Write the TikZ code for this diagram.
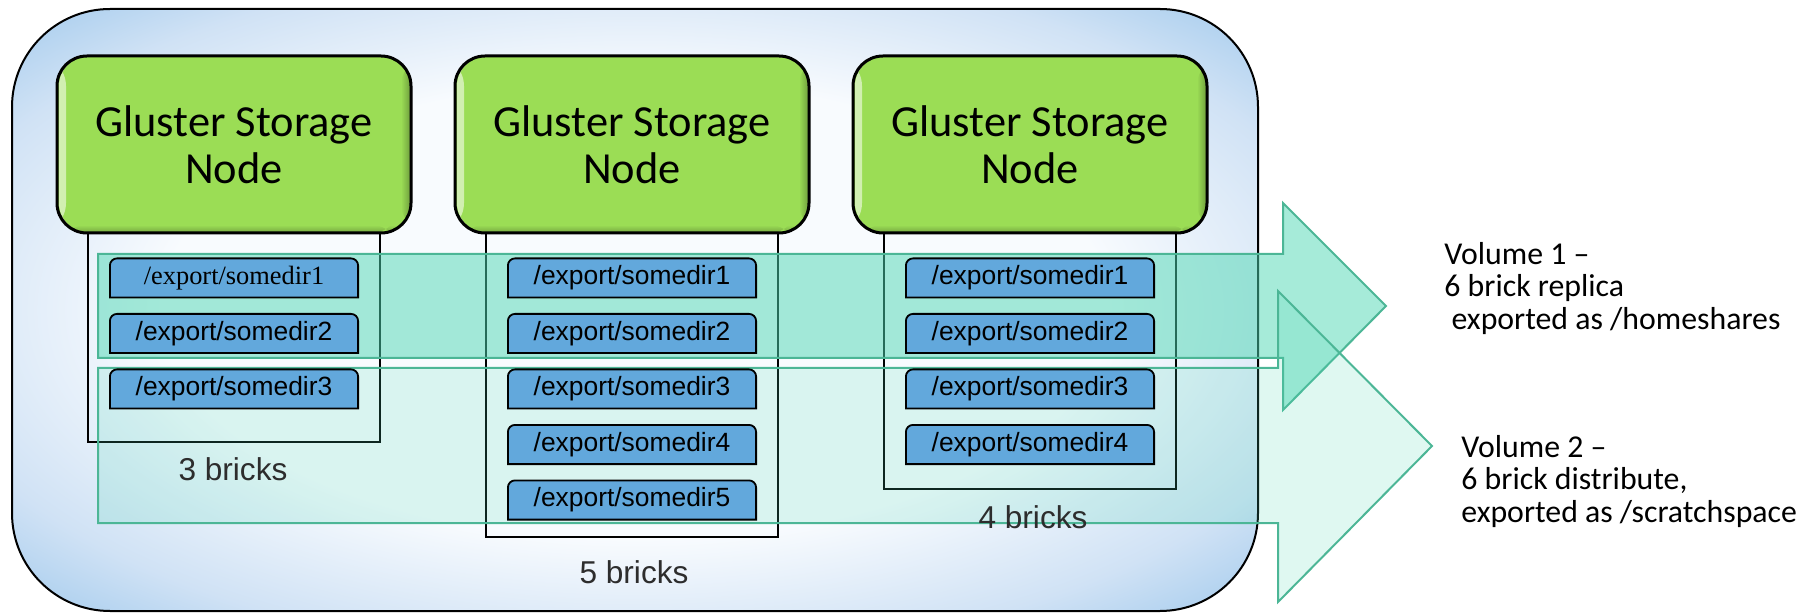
\documentclass[tikz,border=0pt]{standalone}
\usepackage{fontspec}
\usepackage{tikz}
\setmainfont{Carlito}
\newfontfamily\arialf{Liberation Sans}
\newfontfamily\timesf{Liberation Serif}
\definecolor{nodegreen}{RGB}{155,221,85}
\definecolor{brickblue}{RGB}{98,168,220}
\definecolor{volteal}{RGB}{77,215,179}
\definecolor{voledge}{RGB}{76,182,150}
\definecolor{countgray}{RGB}{45,45,45}
\definecolor{glowin}{RGB}{248,251,254}
\definecolor{glowmid}{RGB}{208,226,245}
\definecolor{glowout}{RGB}{160,201,236}
\definecolor{glowdeep}{RGB}{140,188,232}
\pgfdeclareradialshading{clusterglow}{\pgfpoint{0bp}{0bp}}{color(0bp)=(glowin); color(19bp)=(glowin); color(29bp)=(glowmid); color(36bp)=(glowout); color(50bp)=(glowdeep)}

\begin{document}
\begin{tikzpicture}[x=0.5pt,y=-0.5pt]
  \tikzset{gnode/.style={draw=black,line width=1.5pt,fill=nodegreen,rounded corners=15pt,minimum width=177pt,minimum height=88.5pt,align=center,font=\fontsize{22.2}{23.5}\selectfont,
      path picture={\shade[left color=nodegreen!45!white,right color=nodegreen] ([xshift=1pt]path picture bounding box.south west) rectangle ([xshift=4.5pt]path picture bounding box.north west);
        \shade[left color=nodegreen,right color=nodegreen!70!black] ([xshift=-5pt]path picture bounding box.south east) rectangle (path picture bounding box.north east);
        \shade[top color=nodegreen,bottom color=nodegreen!75!black] ([yshift=4pt]path picture bounding box.south west) rectangle ([xshift=-5pt]path picture bounding box.south east);}},
    brick/.style={minimum width=125pt,minimum height=20.5pt,inner sep=0pt,font=\arialf\fontsize{13.2}{15}\selectfont,
      path picture={\draw[x=1pt,y=1pt,fill=brickblue,line width=0.9pt]
        ([shift={(0.45pt,0.45pt)}]path picture bounding box.south west)
        -- ([shift={(0.45pt,-4pt)}]path picture bounding box.north west) arc[start angle=180,end angle=90,radius=3.55pt]
        -- ([shift={(-4pt,-0.45pt)}]path picture bounding box.north east) arc[start angle=90,end angle=0,radius=3.55pt]
        -- ([shift={(-0.45pt,0.45pt)}]path picture bounding box.south east) -- cycle;}},
    frame/.style={draw=black,line width=1pt},
    vol1/.style={draw=voledge,line width=1pt,fill=volteal,fill opacity=0.5},
    vol2/.style={draw=voledge,line width=1pt,fill=volteal,fill opacity=0.18},
    count/.style={font=\arialf\fontsize{15.8}{18}\selectfont,text=countgray},
    vol/.style={anchor=north west,inner sep=0pt,align=left,font=\fontsize{15.9}{16.2}\selectfont}}
  \useasboundingbox (0,0) rectangle (1814,614);
  \draw[black,line width=1pt,rounded corners=49pt,shading=clusterglow] (12,9) rectangle (1258,611);
  \foreach \x/\b/\n in {234/442/1,632/537/2,1030/489/3}{
    \node[gnode] (gn\n) at (\x,144.5) {Gluster Storage\\Node};
    \draw[frame] (\x-146,233) rectangle (\x+146,\b);
  }
  \draw[vol1] (98,254) -- (1283,254) -- (1283,203) -- (1386,306) -- (1283,410) -- (1283,358) -- (98,358) -- cycle;
  \draw[vol2] (98,368) -- (1278,368) -- (1278,291) -- (1432,446) -- (1278,602) -- (1278,523) -- (98,523) -- cycle;
  \foreach \x/\n/\k in {234/1/3,632/2/5,1030/3/4}{
    \foreach \i in {1,...,\k}
      \node[brick] (b\n\i) at (\x,222.5+55.5*\i) {\ifnum\n\i=11 \timesf\fi/export/somedir\i};
  }
  \node[count] (c1) at (233,469) {3 bricks};
  \node[count] (c2) at (634,572) {5 bricks};
  \node[count] (c3) at (1033,517) {4 bricks};
  \node[vol] (v1) at (1444,242) {Volume 1 –\\6 brick replica\\\hspace*{3.6pt}exported as /homeshares};
  \node[vol] (v2) at (1461,435) {Volume 2 –\\6 brick distribute,\\exported as /scratchspace};
\end{tikzpicture}
\end{document}
